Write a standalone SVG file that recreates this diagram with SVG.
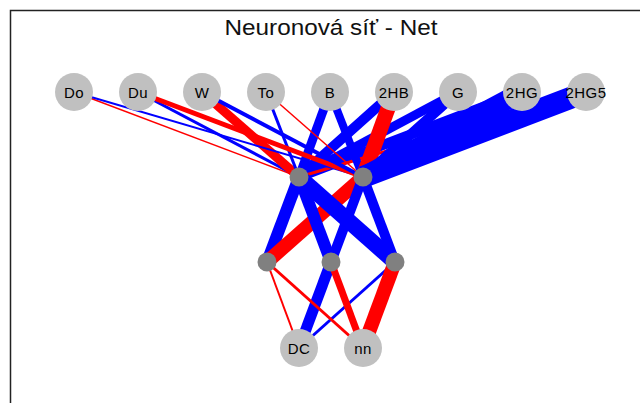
<svg xmlns="http://www.w3.org/2000/svg" width="640" height="403" viewBox="0 0 640 403">
  <style>
    .pos { stroke: #0000ff; fill: none; stroke-linecap: butt; }
    .neg { stroke: #ff0000; fill: none; stroke-linecap: butt; }
    .io circle { fill: #c0c0c0; }
    .hid circle { fill: #808080; }
    .lbl { font-family: "Liberation Sans", Arial, sans-serif; font-size: 15px; fill: #000; text-anchor: middle; letter-spacing: 0.5px; }
    .title { font-family: "Liberation Sans", Arial, sans-serif; font-size: 22px; fill: #111; text-anchor: middle; }
  </style>

  <rect width="640" height="403" fill="#ffffff"/>
  <!-- panel frame -->
  <path d="M10.5 403 V10.5 H640" fill="none" stroke="#222" stroke-width="1.5"/>
  <text class="title" x="331" y="35" textLength="213" lengthAdjust="spacingAndGlyphs">Neuronová síť - Net</text>

  <g id="connectors">
    <!-- inputs -> hidden 1 (first node) -->
    <line class="neg" x1="74" y1="92" x2="299" y2="177" stroke-width="1.5"/>
    <line class="pos" x1="138" y1="92" x2="299" y2="177" stroke-width="3"/>
    <line class="neg" x1="202" y1="92" x2="299" y2="177" stroke-width="9"/>
    <line class="pos" x1="266" y1="92" x2="299" y2="177" stroke-width="3"/>
    <line class="pos" x1="330" y1="92" x2="299" y2="177" stroke-width="9"/>
    <line class="pos" x1="394" y1="92" x2="299" y2="177" stroke-width="10"/>
    <line class="pos" x1="458" y1="92" x2="299" y2="177" stroke-width="9"/>
    <line class="pos" x1="522" y1="92" x2="299" y2="177" stroke-width="10"/>
    <line class="neg" x1="586" y1="92" x2="299" y2="177" stroke-width="3"/>
    <!-- inputs -> hidden 1 (second node) -->
    <line class="pos" x1="74" y1="92" x2="363" y2="177" stroke-width="2"/>
    <line class="neg" x1="138" y1="92" x2="363" y2="177" stroke-width="5"/>
    <line class="pos" x1="202" y1="92" x2="363" y2="177" stroke-width="4"/>
    <line class="neg" x1="266" y1="92" x2="363" y2="177" stroke-width="1.5"/>
    <line class="pos" x1="330" y1="92" x2="363" y2="177" stroke-width="8"/>
    <line class="neg" x1="394" y1="92" x2="363" y2="177" stroke-width="15"/>
    <line class="pos" x1="458" y1="92" x2="363" y2="177" stroke-width="10"/>
    <line class="pos" x1="522" y1="92" x2="363" y2="177" stroke-width="20"/>
    <line class="pos" x1="586" y1="92" x2="363" y2="177" stroke-width="22"/>
    <!-- hidden 1 -> hidden 2 -->
    <line class="pos" x1="299" y1="177" x2="267" y2="262" stroke-width="12"/>
    <line class="neg" x1="363" y1="177" x2="267" y2="262" stroke-width="14"/>
    <line class="pos" x1="299" y1="177" x2="331" y2="262" stroke-width="12"/>
    <line class="pos" x1="363" y1="177" x2="331" y2="262" stroke-width="10"/>
    <line class="pos" x1="299" y1="177" x2="395" y2="262" stroke-width="16"/>
    <line class="pos" x1="363" y1="177" x2="395" y2="262" stroke-width="10"/>
    <!-- hidden 2 -> outputs -->
    <line class="neg" x1="267" y1="262" x2="299" y2="348" stroke-width="2"/>
    <line class="pos" x1="331" y1="262" x2="299" y2="348" stroke-width="11"/>
    <line class="pos" x1="395" y1="262" x2="299" y2="348" stroke-width="3"/>
    <line class="neg" x1="267" y1="262" x2="363" y2="348" stroke-width="3"/>
    <line class="neg" x1="331" y1="262" x2="363" y2="348" stroke-width="7"/>
    <line class="neg" x1="395" y1="262" x2="363" y2="348" stroke-width="14"/>
  </g>

  <!-- input layer -->
  <g id="n-Do" class="io"><circle cx="74" cy="92" r="19"/><text class="lbl" x="74" y="98">Do</text></g>
  <g id="n-Du" class="io"><circle cx="138" cy="92" r="19"/><text class="lbl" x="138" y="98">Du</text></g>
  <g id="n-W" class="io"><circle cx="202" cy="92" r="19"/><text class="lbl" x="202" y="98">W</text></g>
  <g id="n-To" class="io"><circle cx="266" cy="92" r="19"/><text class="lbl" x="266" y="98">To</text></g>
  <g id="n-B" class="io"><circle cx="330" cy="92" r="19"/><text class="lbl" x="330" y="98">B</text></g>
  <g id="n-2HB" class="io"><circle cx="394" cy="92" r="19"/><text class="lbl" x="394" y="98">2HB</text></g>
  <g id="n-G" class="io"><circle cx="458" cy="92" r="19"/><text class="lbl" x="458" y="98">G</text></g>
  <g id="n-2HG" class="io"><circle cx="522" cy="92" r="19"/><text class="lbl" x="522" y="98">2HG</text></g>
  <g id="n-2HG5" class="io"><circle cx="586" cy="92" r="19"/><text class="lbl" x="586" y="98">2HG5</text></g>

  <!-- hidden layers -->
  <g id="h1-1" class="hid"><circle cx="299" cy="177" r="9.5"/></g>
  <g id="h1-2" class="hid"><circle cx="363" cy="177" r="9.5"/></g>
  <g id="h2-1" class="hid"><circle cx="267" cy="262" r="9.5"/></g>
  <g id="h2-2" class="hid"><circle cx="331" cy="262" r="9.5"/></g>
  <g id="h2-3" class="hid"><circle cx="395" cy="262" r="9.5"/></g>

  <!-- output layer -->
  <g id="n-DC" class="io"><circle cx="299" cy="348" r="19"/><text class="lbl" x="299" y="354">DC</text></g>
  <g id="n-nn" class="io"><circle cx="363" cy="348" r="19"/><text class="lbl" x="363" y="354">nn</text></g>
</svg>
